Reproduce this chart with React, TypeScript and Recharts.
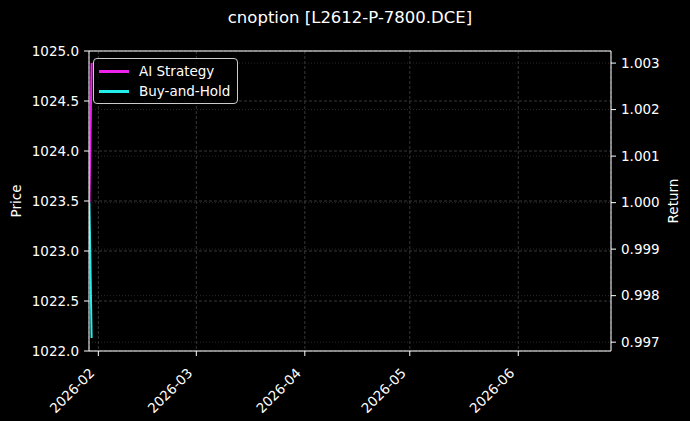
import React from 'react';
import { LineChart, Line, XAxis, YAxis, CartesianGrid, Legend, ReferenceLine } from 'recharts';

// timestamps (ms, UTC) of the two bars in the backtest
const times = [Date.UTC(2026, 0, 29, 11), Date.UTC(2026, 0, 30, 2)];
const aiStrategy = [1.0, 1.003];
const buyAndHold = [1.0, 0.99709];

const monthTicks = [
  Date.UTC(2026, 1, 1),
  Date.UTC(2026, 2, 1),
  Date.UTC(2026, 3, 1),
  Date.UTC(2026, 4, 1),
  Date.UTC(2026, 5, 1),
];
const priceTicks = [1022.0, 1022.5, 1023.0, 1023.5, 1024.0, 1024.5, 1025.0];
const returnTicks = [0.997, 0.998, 0.999, 1.0, 1.001, 1.002, 1.003];

const xDomain = [Date.UTC(2026, 0, 29, 8), Date.UTC(2026, 5, 27, 12)];
const priceDomain = [1022, 1025];

const chartData = times.map((t, i) => ({ t, ai: aiStrategy[i], bh: buyAndHold[i] }));

const FONT = '"DejaVu Sans", sans-serif';
const AI_COLOR = '#ee22ee';
const BH_COLOR = '#22eeee';

const formatMonth = (t: number) => {
  const d = new Date(t);
  return `${d.getUTCFullYear()}-${String(d.getUTCMonth() + 1).padStart(2, '0')}`;
};

const DateTick = ({ x, y, payload }: any) => {
  const ax = x - 3;
  const ay = y + 16;
  return (
    <text
      x={ax}
      y={ay}
      transform={`rotate(-45, ${ax}, ${ay})`}
      textAnchor="end"
      fill="#fff"
      fontSize={13.5}
      fontFamily={FONT}
    >
      {formatMonth(payload.value)}
    </text>
  );
};

const LegendBox = () => (
  <div
    style={{
      position: 'absolute',
      left: 93,
      top: 58,
      width: 145,
      height: 46,
      border: '1px solid #cccccc',
      borderRadius: 4,
      background: 'rgba(0,0,0,0.8)',
      boxSizing: 'border-box',
      fontFamily: FONT,
      fontSize: 13.5,
      color: '#fff',
    }}
  >
    {[
      { name: 'AI Strategy', color: AI_COLOR },
      { name: 'Buy-and-Hold', color: BH_COLOR },
    ].map((item, i) => (
      <div
        key={item.name}
        style={{ position: 'absolute', left: 5, top: 3 + i * 20, height: 18, display: 'flex', alignItems: 'center' }}
      >
        <span style={{ display: 'inline-block', width: 30, height: 3, background: item.color, marginRight: 10 }} />
        <span style={{ lineHeight: '18px', whiteSpace: 'nowrap' }}>{item.name}</span>
      </div>
    ))}
  </div>
);

export default function App() {
  return (
    <div style={{ position: 'fixed', left: 0, top: 0, width: 690, height: 421, background: '#000' }}>
      <div
        style={{
          position: 'absolute',
          left: 89,
          width: 522,
          top: 8,
          textAlign: 'center',
          color: '#fff',
          fontFamily: FONT,
          fontSize: 16.5,
        }}
      >
        cnoption [L2612-P-7800.DCE]
      </div>
      <LineChart
        width={690}
        height={421}
        data={chartData}
        margin={{ top: 51, right: 0, left: 0, bottom: 0 }}
        style={{ position: 'absolute', left: 0, top: 0 }}
      >
        <CartesianGrid yAxisId="left" stroke="#444" strokeWidth={0.8} strokeDasharray="3 2" />
        <CartesianGrid yAxisId="right" vertical={false} stroke="#333" strokeWidth={0.8} strokeDasharray="1 2" />
        <XAxis
          dataKey="t"
          type="number"
          scale="time"
          domain={xDomain}
          ticks={monthTicks}
          interval={0}
          height={70}
          tick={<DateTick />}
          tickSize={5}
          stroke="#fff"
          allowDataOverflow
        />
        <YAxis
          yAxisId="left"
          orientation="left"
          width={89}
          domain={priceDomain}
          ticks={priceTicks}
          interval={0}
          allowDataOverflow
          tickFormatter={(v: number) => v.toFixed(1)}
          tickSize={5}
          tickMargin={5}
          stroke="#fff"
          tick={{ fill: '#fff', fontSize: 13.5, fontFamily: FONT }}
          label={{ value: 'Price', angle: -90, position: 'insideLeft', offset: 16, fill: '#fff', fontSize: 13.5, fontFamily: FONT, style: { textAnchor: 'middle' } }}
        />
        <YAxis
          yAxisId="right"
          orientation="right"
          width={79}
          domain={[0.99681, 1.00326]}
          ticks={returnTicks}
          interval={0}
          tickFormatter={(v: number) => v.toFixed(3)}
          tickSize={5}
          tickMargin={5}
          stroke="#fff"
          allowDataOverflow
          tick={{ fill: '#fff', fontSize: 13.5, fontFamily: FONT }}
          label={{ value: 'Return', angle: -90, position: 'insideRight', offset: 17, fill: '#fff', fontSize: 13.5, fontFamily: FONT, style: { textAnchor: 'middle' } }}
        />
        {/* top spine of the plot frame */}
        <ReferenceLine yAxisId="left" y={priceDomain[1]} stroke="#fff" strokeWidth={1} />
        <Line yAxisId="right" dataKey="ai" name="AI Strategy" stroke={AI_COLOR} strokeWidth={2} dot={false} isAnimationActive={false} />
        <Line yAxisId="right" dataKey="bh" name="Buy-and-Hold" stroke={BH_COLOR} strokeWidth={2} dot={false} isAnimationActive={false} />
        <Legend content={() => null} />
      </LineChart>
      <LegendBox />
    </div>
  );
}
